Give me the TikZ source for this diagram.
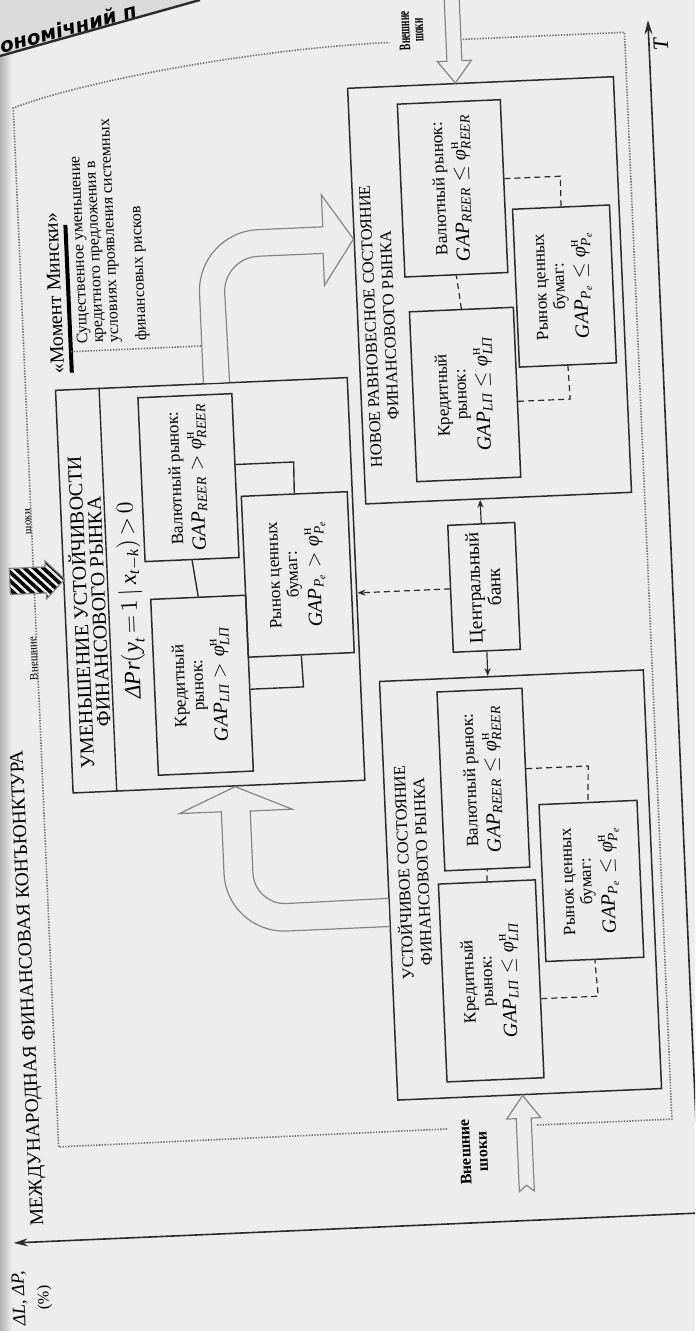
\documentclass[tikz,border=0pt]{standalone}
\usepackage{amsmath}
\usepackage{fontspec}
\setmainfont{Liberation Serif}
\newfontfamily\hdrfont{DejaVu Sans}
\usetikzlibrary{arrows.meta,calc}
\definecolor{bgc}{HTML}{EDEDED}
\definecolor{linec}{HTML}{2B2B2B}
\definecolor{arrc}{HTML}{858585}
\definecolor{dotc}{HTML}{707070}
\newcommand{\fs}[2]{\fontsize{#1}{#2}\selectfont}
\newcommand{\gapf}[2]{$\textit{GAP}_{#1}\mathrel{#2}\textit{φ}^{\text{н}}_{#1}$}
\tikzset{
  bx/.style={draw=linec, line width=0.75pt, inner sep=1pt},
  sub/.style={bx, align=center, font=\fs{8.6}{9.2}},
  ttlab/.style={align=center, inner sep=0pt, font=\fs{8.2}{9.5}},
  ttlc/.style={align=center, inner sep=0pt, font=\fs{10}{9}},
  dsh/.style={draw=linec, line width=0.6pt, dash pattern=on 3pt off 2pt},
  sld/.style={draw=linec, line width=0.7pt},
  frm/.style={draw=dotc, line width=0.8pt, dash pattern=on 0.7pt off 0.7pt},
  blk/.style={draw=arrc, line width=0.6pt, fill=bgc, line join=miter},
  cba/.style={draw=linec, line width=0.6pt, -{Stealth[length=4pt,width=3pt]}},
  axs/.style={draw=linec, line width=0.8pt, -{Stealth[length=7pt,width=4pt]}},
  vsh/.style={align=center, inner sep=0pt, font=\bfseries\fs{8}{8.5}},
}
\begin{document}
\begin{tikzpicture}[x=0.5pt,y=0.5pt]
\useasboundingbox (0,0) rectangle (695,1331);
\fill[bgc] (0,0) rectangle (695,1331);
\clip (0,0) rectangle (695,1331);
\shade[left color=gray!60, right color=bgc] (0,0) rectangle (12,1331);
% page header
\fill[gray!28] (0,1331) -- (200,1331) -- (0,1275) -- cycle;
\draw[linec, line width=1.2pt] (0,1275) -- (200,1331);
\node[font=\hdrfont\bfseries\itshape\fs{10}{11}, rotate=15, inner sep=0pt] (hdr) at (68,1303) {ономічний п};

\begin{scope}[shift={(700,118)}, rotate=92.5, transform shape]
% axes
\coordinate (O) at (0,0);
\coordinate (Vtop) at (0,687);
\coordinate (Tend) at (1194,0);
\draw[axs] (O) -- (Vtop);
\draw[axs] (O) -- (Tend);
\node[font=\fs{11}{12}, inner sep=0pt] (Tl) at (1170,-12) {\textit{T}};
\node[align=center, inner sep=0pt, font=\fs{9.2}{12}] (Vl) at (-56,671) {\textit{ΔL, ΔP,}\\{\fs{8}{8}(\%)}};
\node[anchor=west, inner sep=0pt, font=\fs{9.7}{12}] (mfk) at (16,661) {МЕЖДУНАРОДНАЯ ФИНАНСОВАЯ КОНЪЮНКТУРА};

% dotted frame
\coordinate (f1) at (95,159); \coordinate (f2) at (95,24); \coordinate (f3) at (1183,24);
\coordinate (f4) at (1183,186); \coordinate (f5) at (95,249); \coordinate (f6) at (94,638);
\coordinate (f7) at (1134,638); \coordinate (f8) at (1183,259);
\draw[frm] (f1) -- (f2) -- (f3) -- (f4);
\draw[frm] (f5) -- (f6) -- (f7) .. controls (1160,560) and (1183,380) .. (f8);

% main boxes
\node[bx, minimum width=209.5pt, minimum height=132pt] (A) at (335.5,165) {};
\node[bx, minimum width=208pt, minimum height=133pt] (B) at (931,170) {};
\node[bx, minimum width=201.5pt, minimum height=146pt] (C) at (648.5,462) {};
\draw[sld] ($(C.north west)!0.151!(C.south west)$) -- ($(C.north east)!0.151!(C.south east)$);

% titles
\node[ttlab] (At) at (353,273) {УСТОЙЧИВОЕ СОСТОЯНИЕ\\ФИНАНСОВОГО РЫНКА};
\node[ttlab] (Bt) at (900,281) {НОВОЕ РАВНОВЕСНОЕ СОСТОЯНИЕ\\ФИНАНСОВОГО РЫНКА};
\node[ttlc] (Ct) at (627,585) {УМЕНЬШЕНИЕ УСТОЙЧИВОСТИ\\ФИНАНСОВОГО РЫНКА};
\node[inner sep=0pt, font=\fs{11.5}{12}] (Cf) at (637,542) {\thickmuskip=3mu$\textit{ΔPr}(\textit{y}_{\textit{t}} = 1\,|\,\textit{x}_{\textit{t}-\textit{k}}) > 0$};

% sub-boxes A
\node[sub, minimum width=99pt, minimum height=48.5pt] (cA) at (241,198.5) {Кредитный\\рынок:\\[2pt]{\fs{10}{11}\gapf{\textit{LП}}{\leq}}};
\node[sub, minimum width=89.5pt, minimum height=42.5pt] (vA) at (442.5,197.5) {Валютный рынок:\\[2pt]{\fs{10}{11}\gapf{\textit{REER}}{\leq}}};
\node[sub, minimum width=78.5pt, minimum height=49pt] (sA) at (336.5,94) {Рынок ценных\\бумаг:\\[2pt]{\fs{10}{11}\gapf{\textit{P}_{\textit{e}}}{\leq}}};
% sub-boxes B
\node[sub, minimum width=85pt, minimum height=52pt] (cB) at (828,199) {Кредитный\\рынок:\\[2pt]{\fs{10}{11}\gapf{\textit{LП}}{\leq}}};
\node[sub, minimum width=86.5pt, minimum height=51.5pt] (vB) at (1034.5,202.5) {Валютный рынок:\\[2pt]{\fs{10}{11}\gapf{\textit{REER}}{\leq}}};
\node[sub, minimum width=79pt, minimum height=48.5pt] (sB) at (932,95) {Рынок ценных\\бумаг:\\[2pt]{\fs{10}{11}\gapf{\textit{P}_{\textit{e}}}{\leq}}};
% sub-boxes C
\node[sub, minimum width=88pt, minimum height=47.5pt] (cC) at (549,474.5) {Кредитный\\рынок:\\[2pt]{\fs{10}{11}\gapf{\textit{LП}}{>}}};
\node[sub, minimum width=82pt, minimum height=47pt] (vC) at (757,479) {Валютный рынок:\\[2pt]{\fs{10}{11}\gapf{\textit{REER}}{>}}};
\node[sub, minimum width=80.5pt, minimum height=53pt] (sC) at (655.5,374) {Рынок ценных\\бумаг:\\[2pt]{\fs{10}{11}\gapf{\textit{P}_{\textit{e}}}{>}}};
% central bank
\node[bx, align=center, font=\fs{9.6}{10}, minimum width=63.5pt, minimum height=33.5pt] (CB) at (634.5,188.5) {Центральный\\банк};

% connectors inside boxes
\draw[dsh] (cA.east) -- (vA.west);
\draw[dsh] ($(cA.south west)!0.4!(cA.south east)$) -- ++(0,-57) -- (sA.west);
\draw[dsh] ($(vA.south west)!0.55!(vA.south east)$) -- ++(0,-62) -- (sA.east);
\draw[dsh] (cB.east) -- (vB.west);
\draw[dsh] ($(cB.south west)!0.447!(cB.south east)$) -- ++(0,-52) -- (sB.west);
\draw[dsh] ($(vB.south west)!0.543!(vB.south east)$) -- ++(0,-56) -- (sB.east);
\draw[sld] (cC.east) -- (vC.west);
\draw[sld] ($(cC.south west)!0.466!(cC.south east)$) -- ++(0,-53) -- (sC.west);
\draw[sld] ($(vC.south west)!0.567!(vC.south east)$) -- ++(0,-58) -- (sC.east);

% central bank links
\draw[cba] (CB.west) -- ($(A.south east)!0.589!(A.north east)$);
\draw[cba] (CB.east) -- ($(B.south west)!0.5695!(B.north west)$);
\draw[cba, dash pattern=on 3pt off 2pt] (CB.north) -- ($(C.south west)!0.4653!(C.south east)$);

% curved block arrow A -> C
\draw[blk] ($(A.north west)!0.415!(A.north east)$) -- ++(0,103) arc[start angle=180, end angle=90, radius=60]
  -- ++(62,0) -- ++(0,42) -- ($(C.south west)!0.445!(C.north west)$) -- ++(-25,-56) -- ++(0,42) -- ++(-62,0)
  arc[start angle=90, end angle=180, radius=32] -- ($(A.north west)!0.482!(A.north east)$);
% curved block arrow C -> B
\draw[blk] ($(C.south east)!0.493!(C.north east)$) -- ++(90,0) arc[start angle=90, end angle=0, radius=61]
  -- ++(0,-65) -- ++(32,0) -- ($(B.north west)!0.637!(B.north east)$) -- ++(-45,31) -- ++(32,0) -- ++(0,65)
  arc[start angle=0, end angle=90, radius=35] -- ($(C.south east)!0.404!(C.north east)$);

% external shocks arrows
\draw[blk] ($(A.south west)!0.5265!(A.north west)$) -- ++(-23,17) -- ++(0,-9.5) -- ++(-73,0) -- ++(6,-7.5)
  -- ++(-6,-7.5) -- ++(73,0) -- ++(0,-9.5) -- cycle;
\draw[blk] ($(B.south east)!0.594!(B.north east)$) -- ++(22,17) -- ++(0,-9.5) -- ++(80,0) -- ++(0,-15)
  -- ++(-80,0) -- ++(0,-9.5) -- cycle;
\node[vsh] (vs1) at (71,223.5) {Внешние\\шоки};
\node[vsh, font=\bfseries\fs{8}{6.8}, xscale=0.6] (vs2) at (1194,237) {Внешние\\шоки};

% hatched arrow at top
\fill[bgc] (648,662) -- (648,626) -- (642,626) -- (661,607) -- (680,626) -- (674,626) -- (674,662) -- cycle;
\begin{scope}
  \clip (648,662) -- (648,626) -- (642,626) -- (661,607) -- (680,626) -- (674,626) -- (674,662) -- cycle;
  \foreach \k in {-72,-63,...,72} {\draw[black, line width=1.8pt] (661+\k-40,634-40) -- (661+\k+40,634+40);}
\end{scope}
\draw[arrc, line width=0.6pt] (648,662) -- (648,626) -- (642,626) -- (661,607) -- (680,626) -- (674,626) -- (674,662) -- cycle;
\node[inner sep=0.5pt, anchor=south, font=\fs{5.5}{6}] (vs3) at (583,637) {Внешние};
\node[inner sep=0.5pt, anchor=south, font=\fs{5.5}{6}] (vs4) at (720,637) {шоки};

% Minsky moment callout
\node[inner sep=0pt, font=\fs{10}{11}] (mm) at (947,605) {«Момент Мински»};
\coordinate (mmL) at (867,591); \coordinate (mmR) at (1015,591);
\draw[black, line width=2pt] (mmL) -- (mmR);
\coordinate (mmD1) at (888,591); \coordinate (mmD2) at (888,460);
\draw[frm] (mmD1) -- (mmD2);
\node[anchor=north west, align=left, inner sep=0pt, font=\fs{8}{7.8}] (mmt) at (895,585)
  {Существенное уменьшение\\кредитного предложения в\\условиях проявления системных\\[6pt]финансовых рисков};
\end{scope}
\end{tikzpicture}
\end{document}
